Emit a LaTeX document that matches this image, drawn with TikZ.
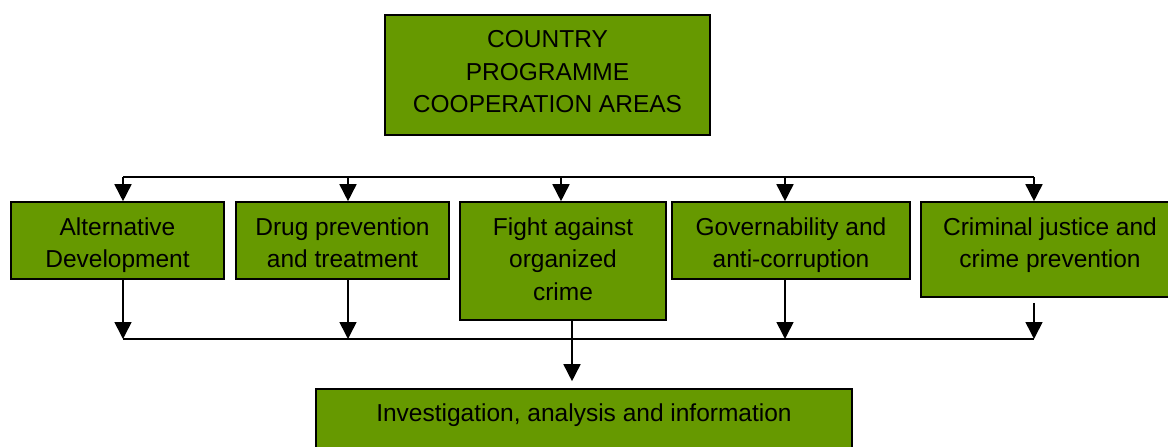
\documentclass[tikz,border=0pt]{standalone}
\usepackage{fontspec}
\setmainfont{Liberation Sans}
\usetikzlibrary{arrows.meta}
\definecolor{boxgreen}{RGB}{102,153,0}
\begin{document}
\begin{tikzpicture}[x=1pt,y=-1pt,
  box/.style={draw=black, line width=1.6pt, fill=boxgreen, rectangle, inner sep=0pt},
  txt/.style={anchor=north, align=center, inner sep=0pt, font=\fontsize{24.5}{32.5}\selectfont},
  link/.style={draw=black, line width=1.6pt},
  arr/.style={link, -{Triangle[length=17pt,width=17pt]}}]
\useasboundingbox (0,0) rectangle (1168,447);

% boxes
\node[box, minimum width=325pt, minimum height=120pt] (top) at (547.5,75) {};
\node[box, minimum width=213pt, minimum height=77pt]  (b1)  at (117.5,240.5) {};
\node[box, minimum width=213pt, minimum height=77pt]  (b2)  at (342.5,240.5) {};
\node[box, minimum width=206pt, minimum height=118pt] (b3)  at (563,261) {};
\node[box, minimum width=238pt, minimum height=77pt]  (b4)  at (791,240.5) {};
\node[box, minimum width=258pt, minimum height=95pt]  (b5)  at (1050,249.5) {};
\node[box, minimum width=536pt, minimum height=90pt]  (bot) at (584,434) {};

% labels
\node[txt] (ttop) at ([yshift=-16pt]top.north) {COUNTRY\\PROGRAMME\\COOPERATION AREAS};
\node[txt] (t1) at ([yshift=-16pt]b1.north) {Alternative\\Development};
\node[txt] (t2) at ([yshift=-16pt]b2.north) {Drug prevention\\and treatment};
\node[txt] (t3) at ([yshift=-16pt]b3.north) {Fight against\\organized\\crime};
\node[txt] (t4) at ([yshift=-16pt]b4.north) {Governability and\\anti-corruption};
\node[txt] (t5) at ([yshift=-16pt]b5.north) {Criminal justice and\\crime prevention};
\node[txt] (tbot) at ([yshift=-15pt]bot.north) {Investigation, analysis and information};

% distribution bus above the row
\coordinate (h1) at (123,177);
\coordinate (h2) at (348,177);
\coordinate (h3) at (561,177);
\coordinate (h4) at (785,177);
\coordinate (h5) at (1034,177);
\draw[link] (h1) -- (h5);
\draw[arr] (h1) -- (h1 |- b1.north);
\draw[arr] (h2) -- (h2 |- b2.north);
\draw[arr] (h3) -- (h3 |- b3.north);
\draw[arr] (h4) -- (h4 |- b4.north);
\draw[arr] (h5) -- (h5 |- b5.north);

% collecting bus below the row
\coordinate (l1) at (123,339);
\coordinate (l2) at (348,339);
\coordinate (l4) at (785,339);
\coordinate (l5) at (1034,339);
\draw[link] (l1) -- (l5);
\draw[arr] (b1.south -| l1) -- (l1);
\draw[arr] (b2.south -| l2) -- (l2);
\draw[arr] (b4.south -| l4) -- (l4);
\draw[arr] ([yshift=-5pt]b5.south -| l5) -- (l5);

% link down to the bottom box
\coordinate (fd) at (572,320);
\draw[arr] (fd |- b3.south) -- ([yshift=7pt]fd |- bot.north);
\end{tikzpicture}
\end{document}
